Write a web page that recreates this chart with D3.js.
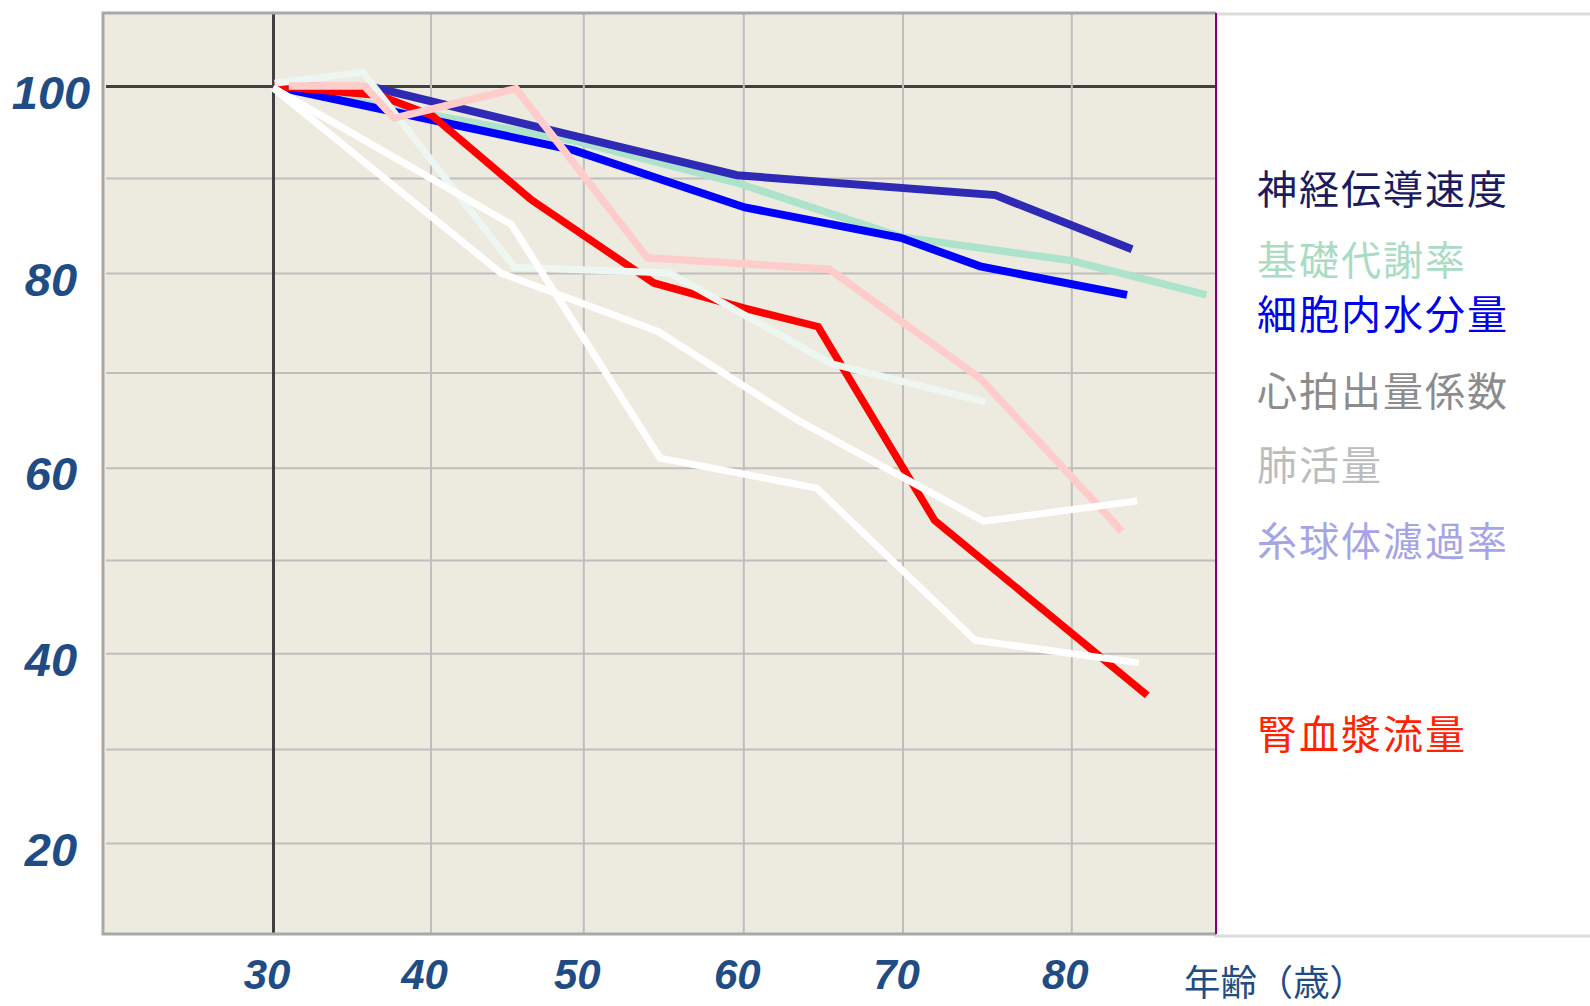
<!DOCTYPE html>
<html>
<head>
<meta charset="utf-8">
<script src="https://cdnjs.cloudflare.com/ajax/libs/d3/7.8.5/d3.min.js"></script>
<style>
  body { margin: 0; background: #fff; }
  svg { display: block; }
</style>
</head>
<body>
<div id="chart"></div>
<script>
// Datos: edad -> % del valor a los 30 años

const ageTicks = [30, 40, 50, 60, 70, 80];
const valueTicks = [20, 40, 60, 80, 100];
const gridValues = [20, 30, 40, 50, 60, 70, 80, 90, 100];

const nerveAges = [30, 36.5, 59.6, 75.5, 83.6];
const nerveVals = [100, 99.8, 90.3, 88.2, 82.5];

const bmrAges = [30, 49.5, 59.6, 69.9, 80, 88];
const bmrVals = [100, 94.0, 89.5, 83.8, 81.3, 77.8];

const waterAges = [30, 49.4, 60.1, 69.9, 74.6, 83.3];
const waterVals = [100, 93.0, 86.9, 83.7, 80.7, 77.8];

const renalAges = [30, 36.7, 40.1, 46.6, 54.4, 60.0, 64.7, 71.9, 84.5];
const renalVals = [100, 99.0, 96.8, 87.7, 79.0, 76.5, 74.6, 54.3, 35.6];

const pinkAges = [31, 35.8, 37.7, 45.6, 54.0, 65.4, 74.6, 83.0];
const pinkVals = [100, 100, 96.5, 99.7, 81.6, 80.4, 69.4, 53.1];

const paleAges = [30.1, 35.7, 45.5, 55.4, 65.5, 74.9];
const paleVals = [100.3, 101.5, 80.6, 80.0, 70.9, 66.9];

const whiteAAges = [30, 45.3, 54.8, 64.6, 74.3, 84.0];
const whiteAVals = [99.8, 85.1, 61.0, 57.8, 41.4, 39.0];

const whiteBAges = [30, 44.6, 54.7, 63.4, 74.8, 83.9];
const whiteBVals = [99.8, 80.0, 74.1, 65.0, 54.2, 56.4];

const legendNames = ["神経伝導速度", "基礎代謝率", "細胞内水分量", "心拍出量係数", "肺活量", "糸球体濾過率", "腎血漿流量"];
const legendColors = ["#1c1b5e", "#a9dcc3", "#0000f0", "#8c8c8c", "#bdbdbd", "#a5a5e6", "#ff2200"];

// Ctes de visualización
const WIDTH = 1590;
const HEIGHT = 1006;
const plot = { left: 103, top: 13, right: 1216, bottom: 934 };
const legendY = [189, 260, 314, 391, 465, 541, 734];
const labelColor = "#1f4c84";

// Las rejillas del original no son del todo regulares: escala por tramos
const x = d3.scaleLinear()
  .domain(ageTicks)
  .range([273, 430.5, 583.3, 743.3, 902.5, 1071.3]);

const y = d3.scaleLinear()
  .domain([100, 90, 80, 70, 60, 50, 40, 30, 20])
  .range([86, 178, 273, 372.5, 467.7, 560, 653.3, 749, 843]);

const svg = d3.select("#chart")
  .append("svg")
  .attr("width", WIDTH)
  .attr("height", HEIGHT);

// Panel de la leyenda
svg.append("rect")
  .attr("x", plot.right).attr("y", 14)
  .attr("width", WIDTH - plot.right + 5).attr("height", 922)
  .attr("fill", "#fff")
  .attr("stroke", "#dcdcdc")
  .attr("stroke-width", 3);

// Fondo del área del gráfico
svg.append("rect")
  .attr("x", plot.left).attr("y", plot.top)
  .attr("width", plot.right - plot.left).attr("height", plot.bottom - plot.top)
  .attr("fill", "#edeae0");

// Rejilla horizontal
const yGrid = svg.append("g")
  .attr("transform", `translate(106, 0)`)
  .call(d3.axisLeft(y).tickValues(gridValues).tickSize(-(plot.right - 106)).tickFormat(""));
yGrid.select(".domain").remove();
yGrid.selectAll(".tick line")
  .attr("stroke", d => d === 100 ? "#404040" : "#bebebe")
  .attr("stroke-width", d => d === 100 ? 3 : 2);

// Rejilla vertical
const xGrid = svg.append("g")
  .attr("transform", `translate(0, ${plot.bottom - 1})`)
  .call(d3.axisBottom(x).tickValues(ageTicks).tickSize(-(plot.bottom - 1 - plot.top)).tickFormat(""));
xGrid.select(".domain").remove();
xGrid.selectAll(".tick line")
  .attr("stroke", d => d === 30 ? "#404040" : "#bebebe")
  .attr("stroke-width", d => d === 30 ? 3 : 2);

// Bordes
svg.append("path")
  .attr("d", `M${plot.right},${plot.top} H${plot.left} V${plot.bottom} H${plot.right}`)
  .attr("fill", "none")
  .attr("stroke", "#a8a8a8")
  .attr("stroke-width", 3);
svg.append("line")
  .attr("x1", plot.right).attr("x2", plot.right)
  .attr("y1", plot.top).attr("y2", plot.bottom)
  .attr("stroke", "#800080")
  .attr("stroke-width", 2);

// Series (orden de dibujo del original)
const series = [
  { ages: bmrAges, vals: bmrVals, color: "#ade3cb", w: 7.5 },
  { ages: nerveAges, vals: nerveVals, color: "#2e2ab5", w: 8 },
  { ages: waterAges, vals: waterVals, color: "#0000ff", w: 8 },
  { ages: renalAges, vals: renalVals, color: "#ff0000", w: 7.5 },
  { ages: paleAges, vals: paleVals, color: "#eef6f1", w: 7 },
  { ages: pinkAges, vals: pinkVals, color: "#ffcccc", w: 7.5 },
  { ages: whiteBAges, vals: whiteBVals, color: "#ffffff", w: 7 },
  { ages: whiteAAges, vals: whiteAVals, color: "#ffffff", w: 7 }
];

const line = d3.line()
  .x(d => x(d[0]))
  .y(d => y(d[1]));

svg.append("g")
  .attr("id", "lines")
  .selectAll("path")
  .data(series)
  .join("path")
  .attr("d", s => line(s.ages.map((a, i) => [a, s.vals[i]])))
  .attr("fill", "none")
  .attr("stroke", s => s.color)
  .attr("stroke-width", s => s.w)
  .attr("stroke-linejoin", "miter")
  .attr("stroke-linecap", "butt");

// Eje Y (etiquetas)
const yAxis = svg.append("g")
  .attr("transform", "translate(51, 0)")
  .call(d3.axisLeft(y).tickValues(valueTicks).tickSize(0).tickPadding(0));
yAxis.select(".domain").remove();
yAxis.selectAll("text")
  .attr("x", 0)
  .attr("dy", "0.47em")
  .attr("text-anchor", "middle")
  .attr("fill", labelColor)
  .attr("font-family", "'Liberation Sans', Arial, sans-serif")
  .attr("font-weight", "bold")
  .attr("font-style", "italic")
  .attr("font-size", "47px");

// Eje X (etiquetas)
const xAxis = svg.append("g")
  .attr("transform", "translate(-6.5, 989)")
  .call(d3.axisBottom(x).tickValues(ageTicks).tickSize(0).tickPadding(0));
xAxis.select(".domain").remove();
xAxis.selectAll("text")
  .attr("y", 0)
  .attr("dy", 0)
  .attr("fill", labelColor)
  .attr("font-family", "'Liberation Sans', Arial, sans-serif")
  .attr("font-weight", "bold")
  .attr("font-style", "italic")
  .attr("font-size", "42px");

svg.append("text")
  .attr("x", 1184)
  .attr("y", 996)
  .attr("fill", labelColor)
  .attr("font-family", "'Noto Sans CJK JP', sans-serif")
  .attr("font-size", "36px")
  .attr("textLength", 182)
  .attr("lengthAdjust", "spacingAndGlyphs")
  .text("年齢（歳）");

// Leyenda
svg.append("g")
  .attr("id", "legend")
  .selectAll("text")
  .data(legendNames)
  .join("text")
  .attr("x", 1257)
  .attr("y", (d, i) => legendY[i] + 15)
  .attr("fill", (d, i) => legendColors[i])
  .attr("font-family", "'Noto Sans CJK JP', sans-serif")
  .attr("font-size", "40px")
  .attr("letter-spacing", "2px")
  .text(d => d);
</script>
</body>
</html>
